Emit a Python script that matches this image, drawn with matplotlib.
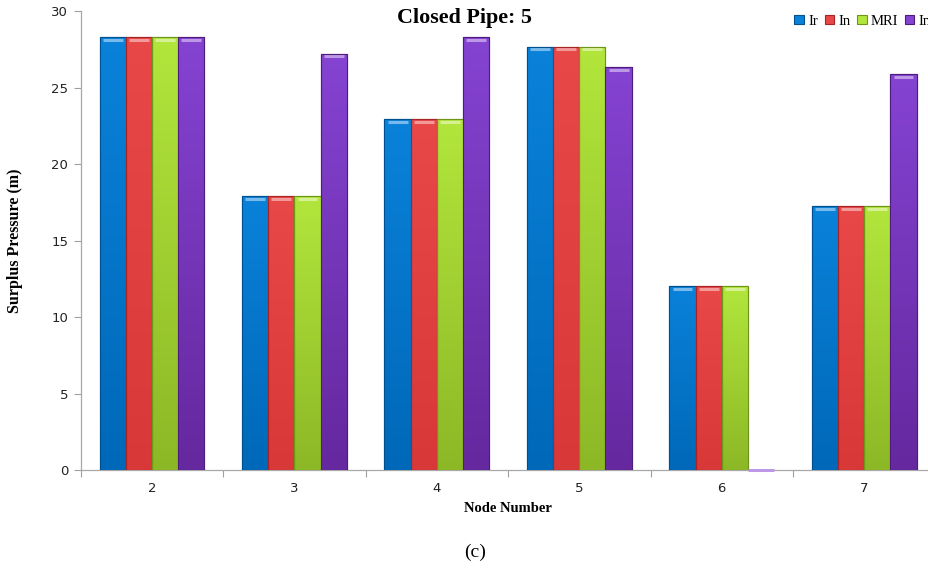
import numpy as np
import matplotlib
matplotlib.use("Agg")
import matplotlib.pyplot as plt
from matplotlib.colors import LinearSegmentedColormap, to_rgb

nodes = ["2", "3", "4", "5", "6", "7"]
series_names = ["Ir", "In", "MRI", "Im"]
ir_vals = [28.3, 17.9, 22.95, 27.7, 12.05, 17.25]
in_vals = [28.3, 17.9, 22.95, 27.7, 12.05, 17.25]
mri_vals = [28.3, 17.9, 22.95, 27.7, 12.05, 17.25]
im_vals = [28.3, 27.25, 28.3, 26.35, 0.0, 25.9]

# top colour, bottom colour, edge colour for each series
palette = [
    ("#0a82da", "#0068b8", "#00508f"),
    ("#e84848", "#d83838", "#a82424"),
    ("#b2e63c", "#8cb826", "#6e9418"),
    ("#8543d2", "#65289e", "#4d1c7c"),
]

fig = plt.figure(figsize=(9.29, 5.71), dpi=100)
ax = fig.add_axes([0.0869, 0.1769, 0.920, 0.803])

x = np.arange(len(nodes))
n = len(series_names)
group_w = 0.735
w = group_w / n
all_vals = [ir_vals, in_vals, mri_vals, im_vals]

grad = np.linspace(0, 1, 256).reshape(-1, 1)
for i, (vals, name) in enumerate(zip(all_vals, series_names)):
    top, bottom, edge = palette[i]
    offs = x - group_w / 2 + w * (i + 0.5)
    bars = ax.bar(offs, vals, width=w, color=bottom, edgecolor=edge,
                  linewidth=0.8, label=name, zorder=3)
    cmap = LinearSegmentedColormap.from_list(name, [bottom, top])
    hl = tuple(min(1, c * 0.55 + 0.45) for c in to_rgb(top))
    for b in bars:
        h = b.get_height()
        bx, bw = b.get_x(), b.get_width()
        if h <= 0:
            # zero-height bar shows as a thin strip on the baseline
            ax.hlines(0, bx, bx + bw, color=hl, lw=2.2, zorder=5,
                      clip_on=False)
            continue
        im = ax.imshow(grad, extent=[bx, bx + bw, 0, h], origin="lower",
                       cmap=cmap, aspect="auto", zorder=3.5)
        im.set_clip_path(b)
        # bevelled highlight along the top of each bar
        ax.plot([bx + bw * 0.12, bx + bw * 0.88], [h - 0.18, h - 0.18],
                color=hl, lw=2.2, solid_capstyle="butt", zorder=4)
        ax.bar(b.get_x() + bw / 2, h, width=bw, fill=False,
               edgecolor=edge, linewidth=0.8, zorder=4.5)

ax.set_xlim(-0.5, len(nodes) - 0.5)
ax.set_ylim(0, 30)
ax.set_yticks(np.arange(0, 31, 5))
ax.set_xticks(x)
ax.set_xticklabels(nodes)
ax.set_xticks(np.arange(-0.5, len(nodes), 1), minor=True)
ax.tick_params(axis="x", which="major", length=0, pad=9, labelsize=9.5,
               labelcolor="#222222")
ax.tick_params(axis="x", which="minor", length=5, color="#a0a0a0", width=0.8)
ax.tick_params(axis="y", length=5, color="#a0a0a0", width=0.8, pad=4,
               labelsize=9.5, labelcolor="#222222")
for side in ("top", "right"):
    ax.spines[side].set_visible(False)
for side in ("left", "bottom"):
    ax.spines[side].set_color("#a8a8a8")
    ax.spines[side].set_linewidth(0.9)

serif = "Liberation Serif"
ax.set_ylabel("Surplus Pressure (m)", fontfamily=serif, fontweight="bold",
              fontsize=11.5, labelpad=20)
ax.set_xlabel("Node Number", fontfamily=serif, fontweight="bold",
              fontsize=10.5, labelpad=5)
fig.text(0.4995, 0.969, "Closed Pipe: 5", ha="center", va="center",
         fontfamily=serif, fontweight="bold", fontsize=15.8)
fig.text(0.511, 0.033, "(c)", ha="center", va="center",
         fontfamily=serif, fontsize=14)

handles = [plt.Rectangle((0, 0), 1, 1, facecolor=p[0], edgecolor=p[2], lw=0.8)
           for p in palette]
leg = fig.legend(handles, series_names, loc="upper left",
                 bbox_to_anchor=(0.8425, 0.995), ncol=4, frameon=False,
                 prop={"family": serif, "size": 10.5}, handlelength=0.65,
                 handleheight=0.65, handletextpad=0.3, columnspacing=0.45,
                 borderpad=0.3)

fig.savefig("out.png", dpi=100)
